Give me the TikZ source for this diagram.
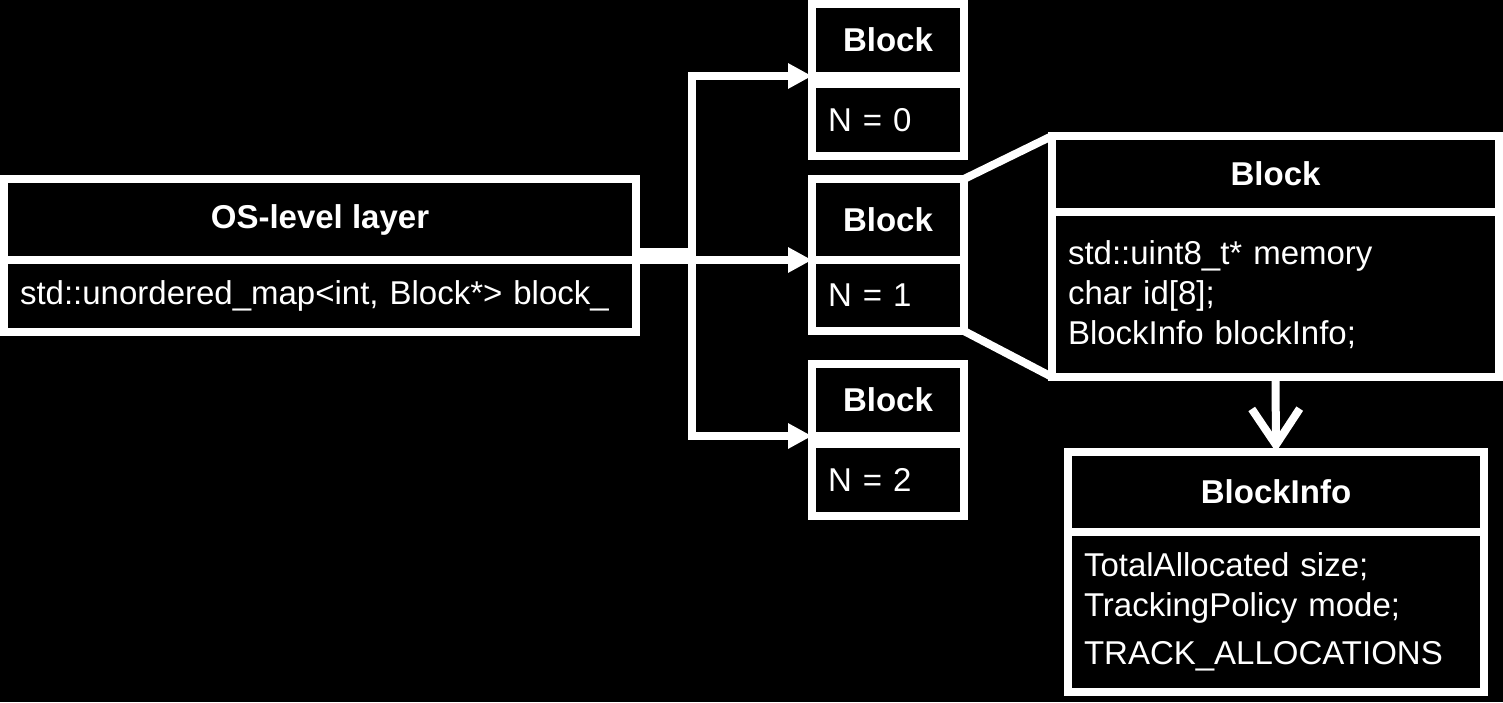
\documentclass[tikz,border=0pt]{standalone}
\usepackage{fontspec}
\setmainfont{Liberation Sans}
\usetikzlibrary{positioning,arrows.meta,calc}

\tikzset{
  box/.style={draw=white, line width=4pt, text=white, outer sep=0pt, inner sep=0pt},
  header/.style={box, font=\bfseries\fontsize{16.5}{20}\selectfont},
  fields/.style={box, font=\fontsize{16.5}{20}\selectfont, align=left, inner xsep=8pt},
  link/.style={draw=white, line width=4pt, -{Triangle[length=12pt,width=12pt]}},
  zoomline/.style={draw=white, line width=4pt},
}

\begin{document}
\begin{tikzpicture}[x=0.5pt, y=-0.5pt]
  \fill[black] (0,0) rectangle (1503,702);
  \useasboundingbox (0,0) rectangle (1503,702);

  % layer
  \node[header, anchor=north west, minimum width=316pt, minimum height=40.5pt] (layer) at (4,179) {OS-level layer};
  \node[fields, below=0pt of layer, text width=300pt, minimum height=36pt] (layerfields) {\mbox{std::unordered\_map<int, Block*> block\_}};

  % blocks
  \node[header, anchor=north west, minimum width=76pt, minimum height=36pt] (blk0) at (812,4) {Block};
  \node[fields, below=4pt of blk0, text width=60pt, minimum height=36pt] (blk0fields) {N = 0};
  \node[header, anchor=north west, minimum width=76pt, minimum height=40.5pt] (blk1) at (812,179) {Block};
  \node[fields, below=0pt of blk1, text width=60pt, minimum height=35.5pt] (blk1fields) {N = 1};
  \node[header, anchor=north west, minimum width=76pt, minimum height=36pt] (blk2) at (812,364) {Block};
  \node[fields, below=4pt of blk2, text width=60pt, minimum height=36pt] (blk2fields) {N = 2};

  % expanded block
  \node[header, anchor=north west, minimum width=223.5pt, minimum height=38pt] (block) at (1052,136) {Block};
  \node[fields, below=0pt of block, text width=207.5pt, minimum height=82.5pt] (blockfields) {std::uint8\_t* memory\\char id[8];\\BlockInfo blockInfo;};

  % block info
  \node[header, anchor=north west, minimum width=208pt, minimum height=40pt] (info) at (1068,452) {BlockInfo};
  \node[fields, below=0pt of info, text width=192pt, minimum height=80pt] (infofields) {TotalAllocated size;\\TrackingPolicy mode;\\[4pt]TRACK\_ALLOCATIONS};

  % links
  \draw[link] ($(layer.south east)+(0,-8)$) -- ++(56,0) |- (blk0.south west);
  \draw[link] (layer.south east) -- (blk1.south west);
  \draw[link] (layer.south east) -- ++(56,0) |- (blk2.south west);

  \draw[zoomline] (blk1.north east) -- (block.north west);
  \draw[zoomline] (blk1fields.south east) -- (blockfields.south west);
  \draw[white, line width=4pt, -{Straight Barb[length=18pt,width=24pt]}] (blockfields.south) -- (info.north);
\end{tikzpicture}
\end{document}
